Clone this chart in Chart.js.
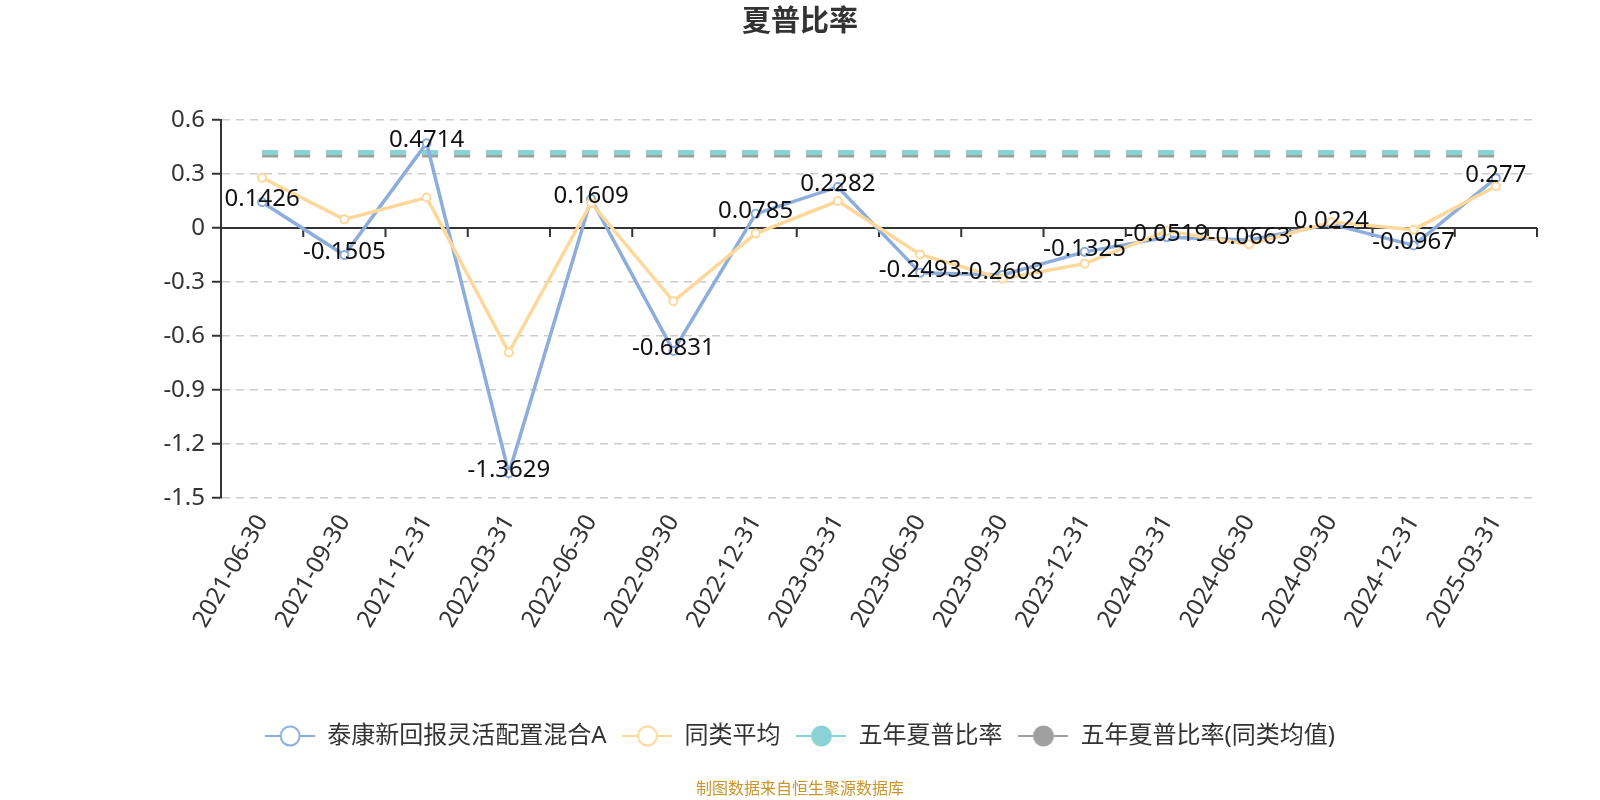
<!DOCTYPE html>
<html>
<head>
<meta charset="utf-8">
<script src="https://cdn.jsdelivr.net/npm/chart.js@4"></script>
<style>
  body { margin: 0; background: #fff; }
  #wrap { width: 1600px; height: 800px; position: relative; }
</style>
</head>
<body>
<div id="wrap"><canvas id="sharpeChart"></canvas></div>
<script>
// Chart data
const categories = ['2021-06-30', '2021-09-30', '2021-12-31', '2022-03-31', '2022-06-30', '2022-09-30',
  '2022-12-31', '2023-03-31', '2023-06-30', '2023-09-30', '2023-12-31', '2024-03-31',
  '2024-06-30', '2024-09-30', '2024-12-31', '2025-03-31'];
const fundValues = [0.1426, -0.1505, 0.4714, -1.3629, 0.1609, -0.6831, 0.0785, 0.2282,
  -0.2493, -0.2608, -0.1325, -0.0519, -0.0663, 0.0224, -0.0967, 0.277];
const peerValues = [0.279, 0.048, 0.169, -0.691, 0.139, -0.407, -0.031, 0.150,
  -0.147, -0.282, -0.198, -0.017, -0.091, 0.033, -0.009, 0.232];
const fiveYearFund = [0.42, 0.42, 0.42, 0.42, 0.42, 0.42, 0.42, 0.42,
  0.42, 0.42, 0.42, 0.42, 0.42, 0.42, 0.42, 0.42];
const fiveYearPeer = [0.405, 0.405, 0.405, 0.405, 0.405, 0.405, 0.405, 0.405,
  0.405, 0.405, 0.405, 0.405, 0.405, 0.405, 0.405, 0.405];
const yTicks = [0.6, 0.3, 0, -0.3, -0.6, -0.9, -1.2, -1.5];
const seriesNames = ['泰康新回报灵活配置混合A', '同类平均', '五年夏普比率', '五年夏普比率(同类均值)'];

const FONT = '"Noto Sans", "Noto Sans CJK SC", sans-serif';
const BLUE = '#8daddc';
const YELLOW = '#fdd89a';
const TEAL = '#89d3d6';
const GRAY = '#a0a0a0';

// legend icon: short line with a circle in the middle
function makeIcon(color, filled) {
  const c = document.createElement('canvas');
  c.width = 50;
  c.height = 24;
  const g = c.getContext('2d');
  g.strokeStyle = color;
  g.lineWidth = 2;
  g.beginPath();
  g.moveTo(0, 12);
  g.lineTo(50, 12);
  g.stroke();
  g.beginPath();
  g.arc(25, 12, 9.5, 0, Math.PI * 2);
  g.fillStyle = filled ? color : '#fff';
  g.fill();
  g.stroke();
  return c;
}
const legendIcons = [makeIcon(BLUE, false), makeIcon(YELLOW, false), makeIcon(TEAL, true), makeIcon(GRAY, true)];

// zero axis line with category ticks
const zeroAxis = {
  id: 'zeroAxis',
  beforeDatasetsDraw(chart) {
    const { ctx, chartArea, scales } = chart;
    const y0 = scales.y.getPixelForValue(0);
    const step = (chartArea.right - chartArea.left) / categories.length;
    ctx.save();
    ctx.strokeStyle = '#333';
    ctx.lineWidth = 2;
    ctx.beginPath();
    ctx.moveTo(chartArea.left, y0);
    ctx.lineTo(chartArea.right, y0);
    for (let i = 0; i <= categories.length; i++) {
      const px = chartArea.left + i * step;
      ctx.moveTo(px, y0);
      ctx.lineTo(px, y0 + 9);
    }
    ctx.stroke();
    ctx.restore();
  }
};

// value labels for the fund series
const valueLabels = {
  id: 'valueLabels',
  afterDatasetsDraw(chart) {
    const meta = chart.getDatasetMeta(0);
    const ctx = chart.ctx;
    ctx.save();
    ctx.font = '24px ' + FONT;
    ctx.fillStyle = '#111';
    ctx.textAlign = 'center';
    ctx.textBaseline = 'middle';
    meta.data.forEach(function(pt, i) {
      ctx.fillText(String(fundValues[i]), pt.x, pt.y - 3);
    });
    ctx.restore();
  }
};

// title and source note
const titles = {
  id: 'titles',
  afterDraw(chart) {
    const ctx = chart.ctx;
    ctx.save();
    ctx.textAlign = 'center';
    ctx.textBaseline = 'middle';
    ctx.fillStyle = '#333';
    ctx.font = 'bold 29px ' + FONT;
    ctx.fillText('夏普比率', 800, 23);
    ctx.fillStyle = '#c8952a';
    ctx.font = '16px ' + FONT;
    ctx.fillText('制图数据来自恒生聚源数据库', 800, 789);
    ctx.restore();
  }
};

const ctx = document.getElementById('sharpeChart').getContext('2d');
const sharpeChart = new Chart(ctx, {
  type: 'line',
  data: {
    labels: categories,
    datasets: [
      {
        label: seriesNames[0],
        data: fundValues,
        borderColor: BLUE,
        borderWidth: 3.5,
        pointRadius: 4,
        pointBorderWidth: 2,
        pointBackgroundColor: '#fff',
        pointBorderColor: BLUE,
        tension: 0,
        order: 3
      },
      {
        label: seriesNames[1],
        data: peerValues,
        borderColor: YELLOW,
        borderWidth: 3.5,
        pointRadius: 4,
        pointBorderWidth: 2,
        pointBackgroundColor: '#fff',
        pointBorderColor: YELLOW,
        tension: 0,
        order: 2
      },
      {
        label: seriesNames[2],
        data: fiveYearFund,
        borderColor: TEAL,
        backgroundColor: TEAL,
        borderWidth: 5,
        borderDash: [16, 16],
        pointRadius: 0,
        order: 4
      },
      {
        label: seriesNames[3],
        data: fiveYearPeer,
        borderColor: GRAY,
        backgroundColor: GRAY,
        borderWidth: 5,
        borderDash: [16, 16],
        pointRadius: 0,
        order: 5
      }
    ]
  },
  options: {
    responsive: true,
    maintainAspectRatio: false,
    animation: false,
    devicePixelRatio: 1,
    layout: {
      padding: { top: 120, right: 63, bottom: 42, left: 63 }
    },
    plugins: {
      title: { display: false },
      tooltip: { enabled: false },
      legend: {
        position: 'bottom',
        labels: {
          usePointStyle: true,
          pointStyleWidth: 50,
          padding: 16,
          color: '#333',
          font: { family: FONT, size: 24 },
          sort: function(a, b) { return a.datasetIndex - b.datasetIndex; },
          generateLabels: function(chart) {
            const items = Chart.defaults.plugins.legend.labels.generateLabels(chart);
            items.forEach(function(item) {
              item.pointStyle = legendIcons[item.datasetIndex];
            });
            return items;
          }
        }
      }
    },
    scales: {
      x: {
        offset: true,
        grid: { display: false, drawTicks: false },
        border: { display: false },
        ticks: {
          autoSkip: false,
          minRotation: 60,
          maxRotation: 60,
          padding: 12,
          color: '#333',
          font: { family: FONT, size: 24 }
        },
        afterFit: function(scale) { scale.height = 210; }
      },
      y: {
        min: -1.5,
        max: 0.6,
        afterBuildTicks: function(scale) {
          scale.ticks = yTicks.map(function(v) { return { value: v }; });
        },
        grid: {
          color: function(c) { return c.tick && c.tick.value === 0 ? 'rgba(0,0,0,0)' : '#cccccc'; },
          lineWidth: 1.5,
          tickColor: '#333',
          tickLength: 9,
          tickWidth: 2
        },
        border: { display: true, color: '#333', width: 2, dash: [8, 6] },
        ticks: {
          padding: 7,
          color: '#333',
          font: { family: FONT, size: 24 },
          callback: function(v) { return String(Math.round(v * 10) / 10); }
        },
        afterFit: function(scale) { scale.width = 158; }
      }
    }
  },
  plugins: [zeroAxis, valueLabels, titles]
});
</script>
</body>
</html>
